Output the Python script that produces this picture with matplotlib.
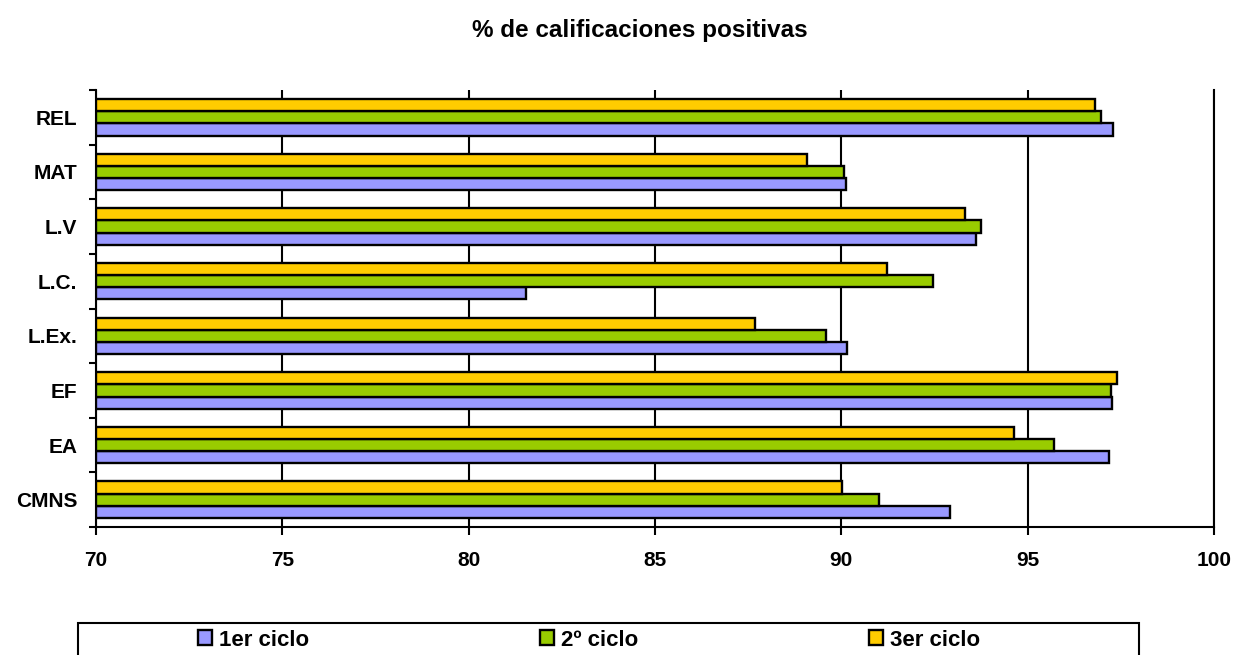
import numpy as np
import matplotlib
matplotlib.use('Agg')
import matplotlib.pyplot as plt
from matplotlib.patches import Rectangle

plt.rcParams['font.family'] = ['Liberation Sans', 'DejaVu Sans']
plt.rcParams['font.weight'] = 'bold'

# categories listed bottom -> top
categories = ['CMNS', 'EA', 'EF', 'L.Ex.', 'L.C.', 'L.V', 'MAT', 'REL']
ciclo1 = [92.91, 97.17, 97.27, 90.14, 81.53, 93.61, 90.12, 97.30]
ciclo2 = [91.00, 95.72, 97.23, 89.58, 92.46, 93.76, 90.08, 96.97]
ciclo3 = [90.03, 94.64, 97.39, 87.69, 91.23, 93.33, 89.07, 96.81]
series_names = ['1er ciclo', '2º ciclo', '3er ciclo']
colors = ['#9999FF', '#99CC00', '#FFCC00']
xticks = [70, 75, 80, 85, 90, 95, 100]

fig = plt.figure(figsize=(12.37, 6.55), dpi=100)
ax = fig.add_axes([96 / 1237, 1 - 527 / 655, (1214 - 96) / 1237, (527 - 90) / 655])

y = np.arange(len(categories))
h = 0.222
base = 70
lw = 1.5
bars = []
for i, (vals, name, c) in enumerate(zip([ciclo1, ciclo2, ciclo3], series_names, colors)):
    vals = np.array(vals)
    b = ax.barh(y + (i - 1) * h, vals - base, left=base, height=h, color=c,
                edgecolor='black', linewidth=1.7, label=name, zorder=3)
    bars.append(b)

ax.set_xlim(70, 100)
ax.set_ylim(-0.5, len(categories) - 0.5)
ax.set_xticks(xticks)
ax.set_xticklabels([str(t) for t in xticks], fontsize=15, fontweight='bold')
ax.tick_params(axis='x', direction='out', length=5.8, width=lw, pad=11.5)

# ticks between categories, labels at centers
ax.set_yticks(np.arange(-0.5, len(categories), 1.0))
ax.set_yticklabels([])
ax.set_yticks(y, minor=True)
ax.set_yticklabels(categories, minor=True, fontsize=15, fontweight='bold')
ax.tick_params(axis='y', which='major', direction='out', length=5, width=lw)
ax.tick_params(axis='y', which='minor', length=0, pad=13.5)

ax.grid(axis='x', color='black', linewidth=lw, zorder=0)
ax.set_axisbelow(True)
ax.spines['top'].set_visible(False)
for s in ['left', 'bottom', 'right']:
    ax.spines[s].set_linewidth(lw)

fig.text(640 / 1237, 1 - 31 / 655, '% de calificaciones positivas',
         ha='center', va='center', fontsize=17.5, fontweight='bold')

# legend box
frame = Rectangle((78 / 1237, 1 - 680 / 655), (1139 - 78) / 1237, (680 - 623) / 655,
                  transform=fig.transFigure, fill=False, edgecolor='black',
                  linewidth=lw, clip_on=False)
fig.patches.append(frame)
leg = fig.legend(handles=bars, labels=series_names, ncol=3, frameon=False,
                 loc='center left', bbox_to_anchor=(198 / 1237, 1 - 640 / 655),
                 fontsize=16, handlelength=0.63, handleheight=0.63,
                 handletextpad=0.3, columnspacing=10.4, borderpad=0, borderaxespad=0)
for t in leg.get_texts():
    t.set_fontweight('bold')

fig.savefig('out.png', dpi=100)
